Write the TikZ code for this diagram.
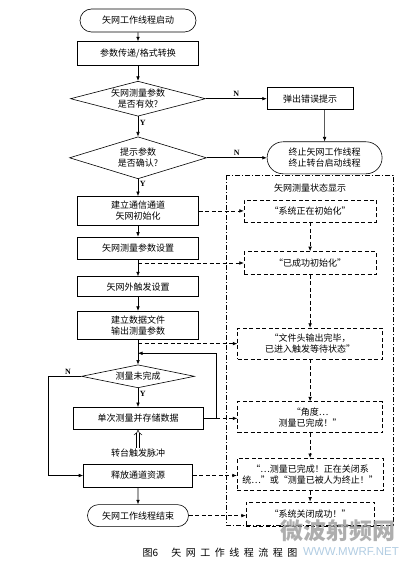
\documentclass[tikz,border=0pt]{standalone}
\usepackage{fontspec}
\setmainfont{Noto Sans CJK SC}
\newfontfamily\latinfont{Liberation Serif}
\newfontfamily\markfont{Liberation Sans}
\usetikzlibrary{
  positioning, calc, shapes.geometric, shapes.misc, arrows.meta}
\tikzset{
    Flow/.style = {line width=0.6pt, -{Latex[length=4.5pt, width=3.6pt]}},
    DashFlow/.style = {Flow, dash pattern=on 4pt off 2.5pt},
    Pulse/.style = {double, double distance=2.4pt, line width=0.5pt, -{Implies}},
    Frame/.style = {line width=0.6pt, dash pattern=on 5pt off 2pt on 1pt off 2pt},
    Proc/.style = {draw, line width=0.6pt, rectangle, minimum width=121pt, inner sep=2pt, align=center},
    Term/.style = {draw, line width=0.6pt, rounded rectangle, inner sep=2pt, align=center},
    Dec/.style = {draw, line width=0.6pt, diamond, inner sep=0pt, align=center},
    Msg/.style = {draw, line width=0.6pt, dash pattern=on 4pt off 2.5pt, rectangle, inner sep=2pt, align=center},
    YN/.style = {font=\latinfont\footnotesize\bfseries, inner sep=1.5pt}
}
\definecolor{markGray}{HTML}{9A9A9A}
\definecolor{markBlue}{HTML}{A9C7DF}

\begin{document}
\begin{tikzpicture}[x=1pt, y=-1pt, font=\fontsize{9}{11}\selectfont]
    \useasboundingbox (0,0) rectangle (419,572);
    % main column
    \node [Term, minimum width=120pt, minimum height=23pt] (start) at (138,20.5) {矢网工作线程启动};
    \node [Proc, minimum height=24pt, below=9pt of start] (convert) {参数传递/格式转换};
    \node [Dec, minimum width=135pt, minimum height=35pt, aspect=3.86, below=15pt of convert] (valid) {矢网测量参数\\是否有效?};
    \node [Dec, minimum width=137pt, minimum height=42pt, aspect=3.26, below=20pt of valid] (confirm) {提示参数\\是否确认?};
    \node [Proc, minimum height=29pt, below=17pt of confirm] (init) {建立通信通道\\矢网初始化};
    \node [Proc, minimum height=22pt, below=11pt of init] (param) {矢网测量参数设置};
    \node [Proc, minimum height=20pt, below=17pt of param] (trig) {矢网外触发设置};
    \node [Proc, minimum height=28pt, below=14pt of trig] (file) {建立数据文件\\输出测量参数};
    \node [Dec, minimum width=113pt, minimum height=23pt, aspect=4.9, below=25pt of file] (notdone) {测量未完成};
    \node [Proc, minimum width=130pt, minimum height=22pt, below=19pt of notdone] (single) {单次测量并存储数据};
    \node [inner sep=1pt, below=18pt of single] (pulse) {转台触发脉冲};
    \node [Proc, minimum width=109pt, minimum height=23pt, below=34pt of single] (release) {释放通道资源};
    \node [Term, minimum width=105pt, minimum height=22pt, below=17pt of release] (finish) {矢网工作线程结束};
    % error branch
    \node [Proc, minimum width=86pt, minimum height=22pt, right=61pt of valid] (error) {弹出错误提示};
    \node [Term, minimum width=119pt, minimum height=32pt, right=60pt of confirm] (abort) {终止矢网工作线程\\终止转台启动线程};
    % status display
    \node [Msg, minimum width=132pt, minimum height=22pt, right=45pt of init] (m1) {“系统正在初始化”};
    \node [Msg, minimum width=132pt, minimum height=23pt, below=29pt of m1] (m2) {“已成功初始化”};
    \node [Msg, minimum width=145pt, minimum height=31pt, below=53pt of m2] (m3) {“文件头输出完毕，\\已进入触发等待状态”};
    \node [Msg, minimum width=145pt, minimum height=31pt, below=42pt of m3] (m4) {“角度…\\测量已完成！”};
    \node [Msg, minimum width=146pt, minimum height=32pt, below=25pt of m4] (m5) {“…测量已完成！正在关闭系\\统…”或“测量已被人为终止！”};
    \node [Msg, minimum width=128pt, minimum height=24pt, below=11pt of m5] (m6) {“系统关闭成功！”};
    \node [inner sep=1pt, above=6pt of m1] (title) {矢网测量状态显示};
    \draw [Frame] (226,175) rectangle (393,525);
    \coordinate (join) at ($(file.south)!0.55!(notdone.north)$);
    \coordinate (loopR) at ($(single.east)+(13pt,0)$);
    % connectors
    \draw [Flow] (start) -- (convert);
    \draw [Flow] (convert) -- (valid);
    \draw [Flow] (valid) -- node [YN, right, pos=0.3] {Y} (confirm);
    \draw [Flow] (valid) -- node [YN, above] {N} (error);
    \draw [Flow] (error.south -| abort.north) -- (abort);
    \draw [Flow] (confirm) -- node [YN, above] {N} (abort);
    \draw [Flow] (confirm) -- node [YN, right, pos=0.3] {Y} (init);
    \draw [Flow] (init) -- (param);
    \draw [Flow] (param) -- (trig);
    \draw [Flow] (trig) -- (file);
    \draw [Flow] (file) -- (notdone);
    \draw [Flow] (notdone) -- node [YN, right, pos=0.3] {Y} (single);
    \draw [Flow] (notdone.west) -- node [YN, above, pos=0.4] {N} ++(-33pt,0) |- (release);
    \draw [Flow] (single.east) -- (loopR) |- (join);
    \draw [Pulse] (pulse) -- (single);
    \draw [Flow] (release) -- (finish);
    \draw [DashFlow] (init) -- (m1);
    \draw [DashFlow] (param.south |- m2.west) -- (m2);
    \draw [DashFlow] (file.south |- m3.west) -- (m3);
    \draw [DashFlow] (loopR) -- (loopR -| m4.west);
    \draw [DashFlow] (release.east) -- (release.east -| m5.west);
    \draw [DashFlow] (finish.east) -- (finish.east -| m6.west);
    \foreach \a/\b in {m1/m2, m2/m3, m3/m4, m4/m5, m5/m6}
        \draw [DashFlow] (\a) -- (\b);
    % caption and mark
    \node (caption) at (220,553) {\fontsize{10}{12}\selectfont 图6\hspace{13pt}矢\hspace{4.5pt}网\hspace{4.5pt}工\hspace{4.5pt}作\hspace{4.5pt}线\hspace{4.5pt}程\hspace{4.5pt}流\hspace{4.5pt}程\hspace{4.5pt}图};
    \node [font=\fontsize{23}{25}\selectfont\bfseries, text=markGray, opacity=0.8] (mark) at (338,531) {微波射频网};
    \node [font=\markfont\fontsize{11.5}{13}\selectfont, text=markBlue, opacity=0.9] (site) at (351,552) {WWW.MWRF.NET};
\end{tikzpicture}
\end{document}
